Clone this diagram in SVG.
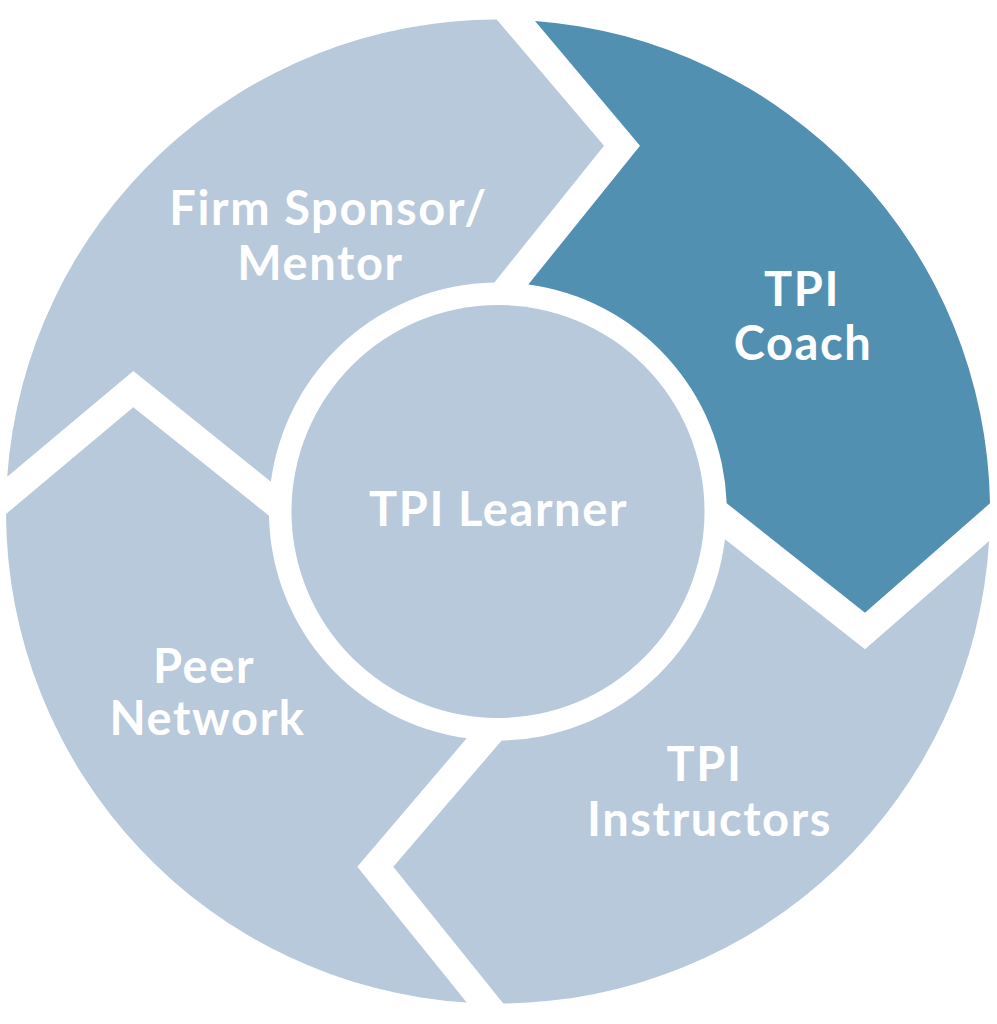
<svg xmlns="http://www.w3.org/2000/svg" width="997" height="1024" viewBox="0 0 997 1024">
<style>
.seg{fill:#B7C9DA}
.dark{fill:#5290B2}
.lbl{font-family:"Lato","Liberation Sans",sans-serif;font-weight:700;font-size:47px;letter-spacing:1.6px;fill:#FFFFFF;text-anchor:middle}
</style>
<rect width="997" height="1024" fill="#FFFFFF"/>
<g id="firm-sponsor">
<path class="seg" d="M 496.7 19.5 L 604 145.7 L 494.3 282.5 A 229 229 0 0 0 270.9 481.7 L 133.3 371 L 7.2 476.7 A 492 492 0 0 1 496.7 19.5 Z"/>
<text class="lbl" x="328.5" y="225">Firm Sponsor/</text>
<text class="lbl" x="320.5" y="280">Mentor</text>
</g>
<g id="tpi-coach">
<path class="dark" d="M 535 20.9 L 640 145.7 L 528.3 284.5 A 229 229 0 0 1 726.7 503.3 L 865 612.7 L 990 503.3 A 492 492 0 0 0 535 20.9 Z"/>
<text class="lbl" x="802" y="306">TPI</text>
<text class="lbl" x="803" y="360">Coach</text>
</g>
<g id="tpi-instructors">
<path class="seg" d="M 989.1 541 L 865 649.3 L 725 539.3 A 229 229 0 0 1 501.7 740.5 L 393.3 866.7 L 503.3 1003.5 A 492 492 0 0 0 989.1 541 Z"/>
<text class="lbl" x="704.5" y="781">TPI</text>
<text class="lbl" x="709.5" y="836">Instructors</text>
</g>
<g id="peer-network">
<path class="seg" d="M 466.7 1002.5 L 357.3 866.7 L 466.7 738.3 A 229 229 0 0 1 269 515.7 L 133.3 407.3 L 6 514 A 492 492 0 0 0 466.7 1002.5 Z"/>
<text class="lbl" x="204" y="683">Peer</text>
<text class="lbl" x="207.5" y="735">Network</text>
</g>
<g id="tpi-learner">
<circle class="seg" cx="498" cy="511.5" r="206.5"/>
<text class="lbl" x="498.5" y="526">TPI Learner</text>
</g>
<g id="connectors"></g>
</svg>
